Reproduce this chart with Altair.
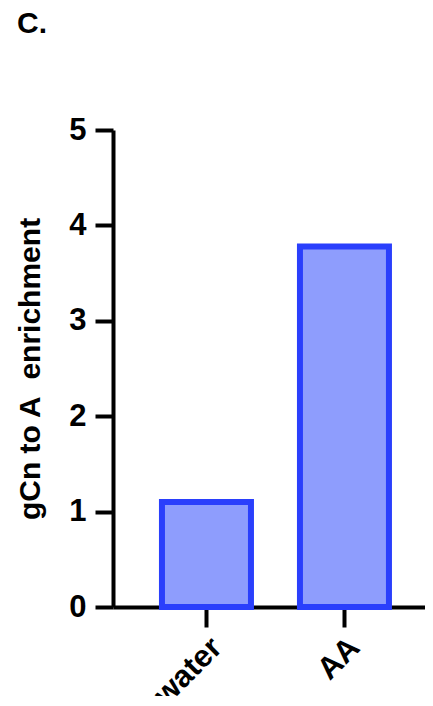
import altair as alt
import pandas as pd

categories = ["water", "AA"]
values = [1.10, 3.78]
y_ticks = [0, 1, 2, 3, 4, 5]

df = pd.DataFrame({"group": categories, "value": values})

FONT = "Liberation Sans"

chart = alt.Chart(df).mark_bar(
    fill="#8e9dfd", stroke="#2a3ffc", strokeWidth=6
).encode(
    x=alt.X("group:N", sort=categories,
            scale=alt.Scale(paddingInner=0.355, paddingOuter=0.308, align=0.576),
            axis=alt.Axis(title=None, labelAngle=-45, labelFontSize=31,
                          labelFont=FONT, labelFontWeight="bold", labelColor="#000",
                          domainColor="#000", domainWidth=4, tickColor="#000",
                          tickWidth=4, tickSize=20, labelPadding=5, labelAlign="right",
                          labelBaseline="top")),
    y=alt.Y("value:Q", scale=alt.Scale(domain=[0, 5], nice=False),
            axis=alt.Axis(title="gCn to A\u00a0 enrichment", values=y_ticks, format="d",
                          labelFontSize=31, labelFont=FONT, labelFontWeight="bold",
                          labelColor="#000", titleFont=FONT, titleFontSize=30,
                          titleFontWeight="bold", titleColor="#000", titlePadding=23,
                          domainColor="#000", domainWidth=4, tickColor="#000",
                          tickWidth=4, tickSize=18, labelPadding=9, grid=False)),
).properties(
    width=312, height=477,
    title=alt.TitleParams("C.", anchor="start", frame="group", fontSize=30,
                          font=FONT, fontWeight="bold", color="#000", dx=-96, dy=-71),
    padding={"left": 105, "top": 122, "right": 0, "bottom": 89},
    autosize="none",
).configure_view(stroke=None)

chart.save("out.html", embed_options={"renderer": "svg", "actions": False})
